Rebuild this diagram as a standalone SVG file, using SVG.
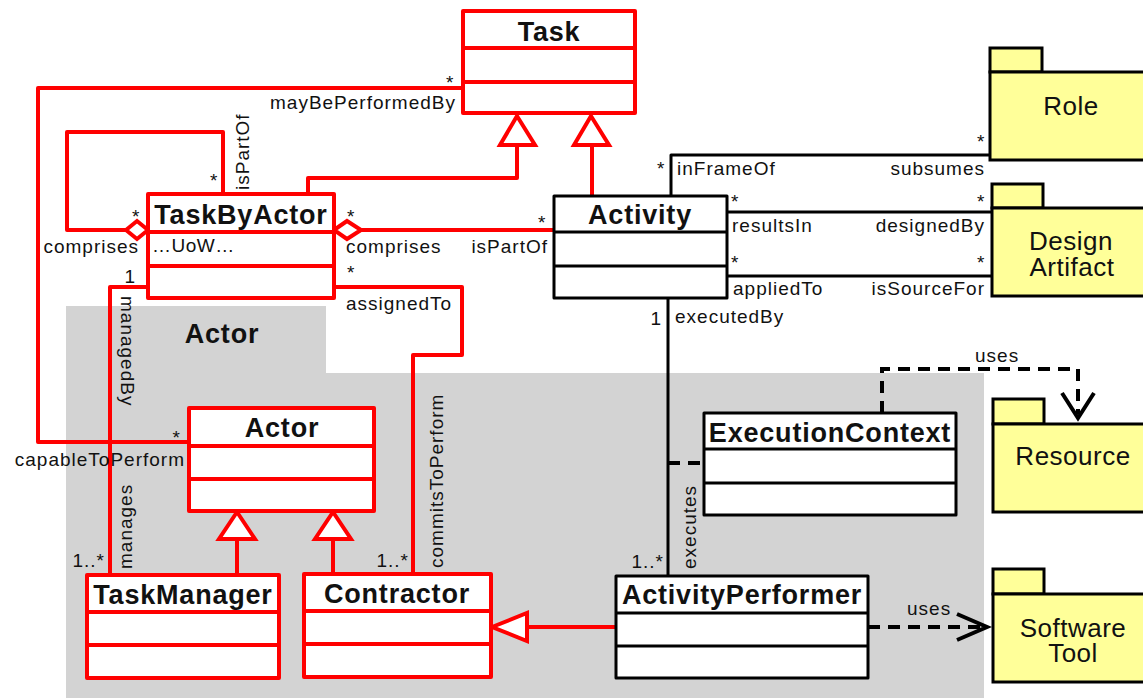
<svg xmlns="http://www.w3.org/2000/svg" width="1143" height="698" viewBox="0 0 1143 698">
  <style>
    text { font-family: "Liberation Sans", Arial, sans-serif; fill: #111; }
    .lbl { font-size: 19px; letter-spacing: 1px; }
    .end { text-anchor: end; }
    .ttl { font-size: 27px; font-weight: bold; text-anchor: middle; letter-spacing: 0.8px; }
    .pkgname { font-size: 26px; text-anchor: middle; letter-spacing: 0.5px; }
    .red { fill: none; stroke: #ff0000; stroke-width: 4; stroke-linejoin: round; }
    .blk { fill: none; stroke: #000; stroke-width: 3; stroke-linejoin: round; }
    .dash { fill: none; stroke: #000; stroke-width: 4; stroke-dasharray: 12 8; }
    .open { fill: none; stroke: #000; stroke-width: 4; stroke-linejoin: miter; }
    .boxr { fill: #fff; stroke: #ff0000; stroke-width: 4; stroke-linejoin: round; }
    .boxk { fill: #fff; stroke: #000; stroke-width: 3; stroke-linejoin: round; }
    .divr { stroke: #ff0000; stroke-width: 4; }
    .divk { stroke: #000; stroke-width: 3; }
    .pkg { fill: #ffff99; stroke: #000; stroke-width: 3; }
    .tri { fill: #fff; stroke: #ff0000; stroke-width: 4; stroke-linejoin: miter; }
    .dia { fill: #fff; stroke: #ff0000; stroke-width: 4; stroke-linejoin: miter; }
  </style>

  <!-- Actor package backdrop -->
  <g id="actor-package">
    <path d="M66 306 H326 V373 H984 V698 H66 Z" fill="#d3d3d3"/>
    <text x="222" y="343" class="ttl">Actor</text>
  </g>

  <!-- connectors -->
  <g id="connectors">
    <!-- mayBePerformedBy / capableToPerform -->
    <path class="red" d="M463 88 H38 V442 H189"/>
    <!-- TaskByActor self aggregation -->
    <path class="red" d="M223 194 V132 H67 V230 H126"/>
    <polygon class="dia" points="126,230 137,221 148,230 137,239"/>
    <!-- TaskByActor comprises Activity -->
    <path class="red" d="M361 230 H554"/>
    <polygon class="dia" points="334,230 347,221 361,230 347,239"/>
    <!-- generalisations to Task -->
    <path class="red" d="M308 194 V178 H517 V145"/>
    <polygon class="tri" points="517,116 500,145 535,145"/>
    <path class="red" d="M592 196 V145"/>
    <polygon class="tri" points="591,116 574,145 609,145"/>
    <!-- managedBy / manages -->
    <path class="red" d="M148 287 H110 V575"/>
    <!-- assignedTo / commitsToPerform -->
    <path class="red" d="M334 287 H462 V355 H413 V574"/>
    <!-- generalisations to Actor -->
    <path class="red" d="M237 575 V539"/>
    <polygon class="tri" points="237,512 219,539 255,539"/>
    <path class="red" d="M333 574 V539"/>
    <polygon class="tri" points="333,512 315,539 351,539"/>
    <!-- ActivityPerformer is a Contractor -->
    <path class="red" d="M616 627 H527"/>
    <polygon class="tri" points="492,627 527,613 527,641"/>

    <!-- Activity associations -->
    <path class="blk" d="M671 196 V155 H990"/>
    <path class="blk" d="M727 212 H992"/>
    <path class="blk" d="M727 276 H992"/>
    <path class="blk" d="M668 298 V576"/>
    <!-- association class link -->
    <path class="dash" d="M668 463 H704"/>
    <!-- uses dependencies -->
    <path class="dash" d="M882 413 V369 H1078 V414"/>
    <polyline class="open" points="1062,393 1078,418 1094,393"/>
    <path class="dash" d="M868 627 H984"/>
    <polyline class="open" points="957,614 987,627 957,640"/>
  </g>

  <!-- association end labels -->
  <g id="labels">
    <text x="446" y="89" class="lbl">*</text>
    <text x="456" y="109" class="lbl end">mayBePerformedBy</text>
    <text x="181" y="444" class="lbl end">*</text>
    <text x="185" y="466" class="lbl end">capableToPerform</text>

    <text x="210" y="187" class="lbl">*</text>
    <text transform="translate(249,190) rotate(-90)" class="lbl">isPartOf</text>
    <text x="132" y="223" class="lbl">*</text>
    <text x="139" y="253" class="lbl end">comprises</text>

    <text x="347" y="223" class="lbl">*</text>
    <text x="346" y="253" class="lbl">comprises</text>
    <text x="538" y="229" class="lbl">*</text>
    <text x="548" y="253" class="lbl end">isPartOf</text>

    <text x="136" y="283" class="lbl end">1</text>
    <text transform="translate(121,296) rotate(90)" class="lbl">managedBy</text>
    <text transform="translate(132,569) rotate(-90)" class="lbl">manages</text>
    <text x="105" y="567" class="lbl end">1..*</text>

    <text x="347" y="279" class="lbl">*</text>
    <text x="346" y="310" class="lbl">assignedTo</text>
    <text transform="translate(443,568) rotate(-90)" class="lbl">commitsToPerform</text>
    <text x="409" y="567" class="lbl end">1..*</text>

    <text x="657" y="175" class="lbl">*</text>
    <text x="677" y="175" class="lbl">inFrameOf</text>
    <text x="977" y="148" class="lbl">*</text>
    <text x="985" y="175" class="lbl end">subsumes</text>

    <text x="731" y="208" class="lbl">*</text>
    <text x="732" y="232" class="lbl">resultsIn</text>
    <text x="977" y="208" class="lbl">*</text>
    <text x="985" y="232" class="lbl end">designedBy</text>

    <text x="731" y="269" class="lbl">*</text>
    <text x="733" y="295" class="lbl">appliedTo</text>
    <text x="977" y="269" class="lbl">*</text>
    <text x="985" y="295" class="lbl end">isSourceFor</text>

    <text x="662" y="325" class="lbl end">1</text>
    <text x="675" y="323" class="lbl">executedBy</text>
    <text transform="translate(696,569) rotate(-90)" class="lbl">executes</text>
    <text x="664" y="568" class="lbl end">1..*</text>

    <text x="975" y="362" class="lbl">uses</text>
    <text x="907" y="615" class="lbl">uses</text>
  </g>

  <!-- classes -->
  <g id="Task">
    <rect class="boxr" x="463" y="11" width="172" height="102"/>
    <line class="divr" x1="463" y1="48" x2="635" y2="48"/>
    <line class="divr" x1="463" y1="82" x2="635" y2="82"/>
    <text x="549" y="41" class="ttl">Task</text>
  </g>
  <g id="TaskByActor">
    <rect class="boxr" x="148" y="194" width="186" height="104"/>
    <line class="divr" x1="148" y1="232" x2="334" y2="232"/>
    <line class="divr" x1="148" y1="266" x2="334" y2="266"/>
    <text x="241" y="224" class="ttl">TaskByActor</text>
    <text x="152" y="252" class="lbl" style="letter-spacing:0.5px">…UoW…</text>
  </g>
  <g id="Activity">
    <rect class="boxk" x="554" y="196" width="173" height="102"/>
    <line class="divk" x1="554" y1="232" x2="727" y2="232"/>
    <line class="divk" x1="554" y1="266" x2="727" y2="266"/>
    <text x="640" y="224" class="ttl">Activity</text>
  </g>
  <g id="Actor">
    <rect class="boxr" x="189" y="408" width="185" height="103"/>
    <line class="divr" x1="189" y1="446" x2="374" y2="446"/>
    <line class="divr" x1="189" y1="479" x2="374" y2="479"/>
    <text x="282" y="437" class="ttl">Actor</text>
  </g>
  <g id="TaskManager">
    <rect class="boxr" x="87" y="575" width="192" height="103"/>
    <line class="divr" x1="87" y1="612" x2="279" y2="612"/>
    <line class="divr" x1="87" y1="645" x2="279" y2="645"/>
    <text x="183" y="604" class="ttl">TaskManager</text>
  </g>
  <g id="Contractor">
    <rect class="boxr" x="304" y="574" width="187" height="103"/>
    <line class="divr" x1="304" y1="611" x2="491" y2="611"/>
    <line class="divr" x1="304" y1="644" x2="491" y2="644"/>
    <text x="397" y="603" class="ttl">Contractor</text>
  </g>
  <g id="ExecutionContext">
    <rect class="boxk" x="704" y="413" width="252" height="102"/>
    <line class="divk" x1="704" y1="449" x2="956" y2="449"/>
    <line class="divk" x1="704" y1="483" x2="956" y2="483"/>
    <text x="830" y="442" class="ttl">ExecutionContext</text>
  </g>
  <g id="ActivityPerformer">
    <rect class="boxk" x="616" y="576" width="252" height="102"/>
    <line class="divk" x1="616" y1="613" x2="868" y2="613"/>
    <line class="divk" x1="616" y1="646" x2="868" y2="646"/>
    <text x="742" y="604" class="ttl">ActivityPerformer</text>
  </g>

  <!-- packages -->
  <g id="Role">
    <rect class="pkg" x="990" y="48" width="52" height="24"/>
    <rect class="pkg" x="990" y="72" width="170" height="88"/>
    <text x="1071" y="115" class="pkgname">Role</text>
  </g>
  <g id="DesignArtifact">
    <rect class="pkg" x="992" y="184" width="51" height="24"/>
    <rect class="pkg" x="992" y="208" width="170" height="88"/>
    <text x="1071" y="250" class="pkgname">Design</text>
    <text x="1072" y="276" class="pkgname">Artifact</text>
  </g>
  <g id="Resource">
    <rect class="pkg" x="993" y="399" width="51" height="25"/>
    <rect class="pkg" x="993" y="424" width="170" height="88"/>
    <text x="1073" y="465" class="pkgname">Resource</text>
  </g>
  <g id="SoftwareTool">
    <rect class="pkg" x="993" y="569" width="51" height="25"/>
    <rect class="pkg" x="993" y="594" width="170" height="88"/>
    <text x="1073" y="637" class="pkgname">Software</text>
    <text x="1073" y="662" class="pkgname">Tool</text>
  </g>
</svg>
